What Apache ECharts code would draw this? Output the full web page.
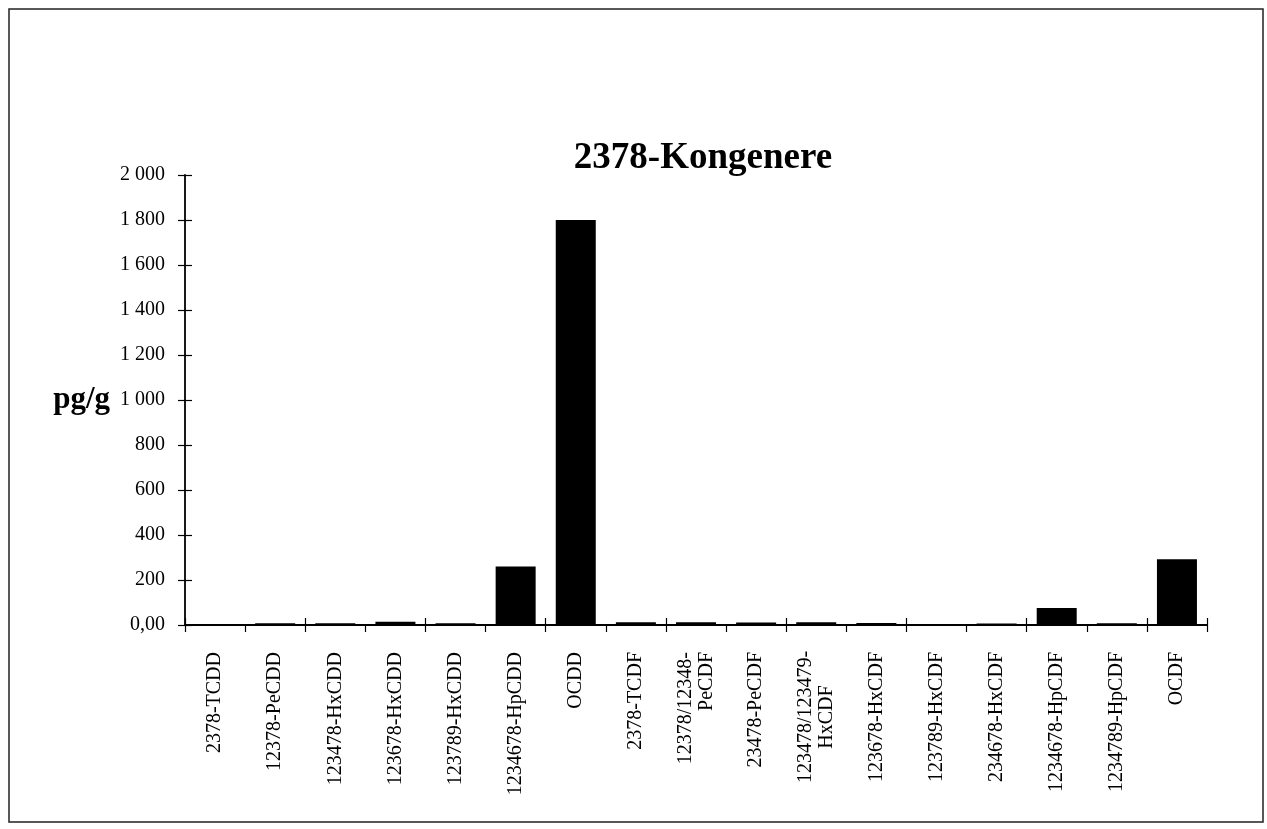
<!DOCTYPE html>
<html>
<head>
<meta charset="utf-8">
<script src="https://cdn.jsdelivr.net/npm/echarts@6/dist/echarts.min.js"></script>
<style>
  html, body { margin: 0; padding: 0; background: #fff; }
  #chart { width: 1267px; height: 829px; }
</style>
</head>
<body>
<div id="chart"></div>
<script>
// Congener names (2,3,7,8-substituted PCDD/PCDF)
const categories = [
  '2378-TCDD', '12378-PeCDD', '123478-HxCDD', '123678-HxCDD', '123789-HxCDD',
  '1234678-HpCDD', 'OCDD', '2378-TCDF', '12378/12348-\nPeCDF', '23478-PeCDF',
  '123478/123479-\nHxCDF', '123678-HxCDF', '123789-HxCDF', '234678-HxCDF',
  '1234678-HpCDF', '1234789-HpCDF', 'OCDF'
];
// Concentrations, pg/g
const values = [5, 8, 8, 14, 8, 260, 1800, 12, 12, 11, 12, 9, 3, 7, 76, 8, 292];
const yTicks = [0, 200, 400, 600, 800, 1000, 1200, 1400, 1600, 1800, 2000];

const serif = '"Liberation Serif", "DejaVu Serif", serif';
const chart = echarts.init(document.getElementById('chart'), null, { renderer: 'canvas' });

function tickLabel(v) {
  if (v === 0) return '0,00';
  const s = String(v);
  return s.length > 3 ? s.slice(0, s.length - 3) + ' ' + s.slice(-3) : s;
}

// Two-line names: the HxCDF pair is centred under its first line
function catLabel(v) {
  if (v.indexOf('\n') < 0 || v.indexOf('HxCDF') < 0) return v;
  return v.split('\n').map(p => '{c|' + p + '}').join('\n');
}

const axisLine = { show: true, lineStyle: { color: '#000', width: 1.8 } };

chart.setOption({
  backgroundColor: '#fff',
  animation: false,
  title: {
    text: '2378-Kongenere',
    left: 698,
    top: 135,
    textAlign: 'center',
    textStyle: { fontFamily: serif, fontWeight: 'bold', fontSize: 37, color: '#000' }
  },
  graphic: [{
    type: 'rect',
    shape: { x: 9, y: 9, width: 1254, height: 813 },
    style: { fill: 'none', stroke: '#222', lineWidth: 1.5 },
    silent: true
  }],
  grid: { left: 185, top: 175, right: 60, bottom: 204, containLabel: false },
  xAxis: [{
    type: 'category',
    data: categories,
    boundaryGap: true,
    axisLine: axisLine,
    axisTick: { show: true, alignWithLabel: false, length: 7, lineStyle: { color: '#000', width: 1.2 } },
    axisLabel: {
      rotate: 90,
      interval: 0,
      margin: 27,
      fontFamily: serif,
      fontSize: 20,
      color: '#000',
      lineHeight: 21,
      formatter: catLabel,
      rich: { c: { fontFamily: serif, fontSize: 20, color: '#000', width: 130, align: 'center', lineHeight: 21 } }
    },
    splitLine: { show: false }
  }, {
    type: 'category',
    data: categories,
    position: 'bottom',
    boundaryGap: true,
    axisLine: { show: false },
    axisTick: { show: true, inside: true, alignWithLabel: false, length: 7, lineStyle: { color: '#000', width: 1.2 } },
    axisLabel: { show: false },
    splitLine: { show: false }
  }],
  yAxis: [{
    type: 'value',
    min: 0,
    max: 2000,
    interval: 200,
    name: 'pg/g',
    nameLocation: 'middle',
    nameRotate: 0,
    nameGap: 75,
    nameTextStyle: { fontFamily: serif, fontWeight: 'bold', fontSize: 31, color: '#000', align: 'right', verticalAlign: 'middle' },
    axisLine: axisLine,
    axisTick: { show: true, length: 7, lineStyle: { color: '#000', width: 1.2 } },
    axisLabel: {
      margin: 20,
      fontFamily: serif,
      fontSize: 20,
      color: '#000',
      formatter: tickLabel,
      customValues: yTicks
    },
    splitLine: { show: false }
  }, {
    type: 'value',
    min: 0,
    max: 2000,
    interval: 200,
    position: 'left',
    axisLine: { show: false },
    axisTick: { show: true, inside: true, length: 7, lineStyle: { color: '#000', width: 1.2 } },
    axisLabel: { show: false },
    splitLine: { show: false }
  }],
  series: [{
    type: 'bar',
    data: values,
    barWidth: 40,
    itemStyle: { color: '#000' },
    xAxisIndex: 0,
    yAxisIndex: 0
  }]
});
</script>
</body>
</html>
